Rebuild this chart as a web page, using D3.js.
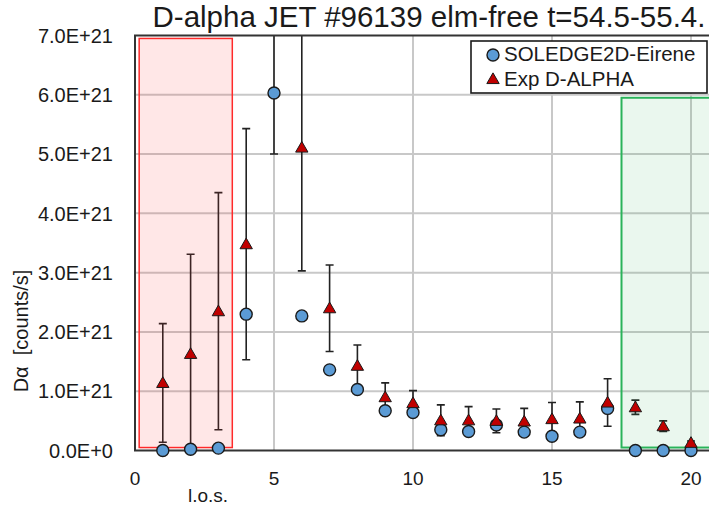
<!DOCTYPE html>
<html>
<head>
<meta charset="utf-8">
<script src="https://cdn.jsdelivr.net/npm/d3@7"></script>
<style>
  body { margin: 0; background: #fff; }
  text { font-family: "Liberation Sans", Arial, sans-serif; fill: #1a1a1a; white-space: pre; }
</style>
</head>
<body>
<script>
const width = 709
const height = 510

// line of sight index
const los = [1,2,3,4,5,6,7,8,9,10,11,12,13,14,15,16,17,18,19,20]
// SOLEDGE2D-Eirene, units of 1e21 counts/s
const soledge = [0,0.02,0.04,2.30,6.03,2.27,1.36,1.03,0.67,0.64,0.35,0.32,0.43,0.31,0.24,0.31,0.71,0,0,0]
// Exp D-ALPHA and its error, units of 1e21 counts/s
const expDalpha = [1.14,1.63,2.35,3.48,7.6,5.11,2.40,1.43,0.90,0.80,0.51,0.51,0.50,0.49,0.53,0.54,0.81,0.73,0.41,0.13]
const expErr = [1.0,1.68,2.0,1.95,2.6,2.08,0.73,0.35,0.24,0.21,0.26,0.23,0.20,0.22,0.28,0.28,0.40,0.12,0.09,0.03]

const yTicks = [0,1,2,3,4,5,6,7]
const yTickLabels = ['0.0E+0','1.0E+21','2.0E+21','3.0E+21','4.0E+21','5.0E+21','6.0E+21','7.0E+21']
const xTicks = [0,5,10,15,20]

// shaded l.o.s. ranges
const redBand = {x0:0.15, x1:3.5, y0:0.05, y1:6.95}
const greenBand = {x0:17.5, x1:21.5, y0:0.05, y1:5.95}

const svg = d3.select('body').append('svg')
  .attr('width',width)
  .attr('height',height)

const x = d3.scaleLinear().domain([0,21]).range([135,718.8])
const y = d3.scaleLinear().domain([0,7]).range([450.5,35.5])

svg.append('defs').append('clipPath').attr('id','plot')
  .append('rect')
  .attr('x',x(0)).attr('y',y(7))
  .attr('width',x(21)-x(0)).attr('height',y(0)-y(7))

// grid
const grid = svg.append('g').attr('stroke','#c8c8c8').attr('stroke-width',2)
grid.selectAll('.gy').data(yTicks.filter(d => d > 0 && d < 7)).enter().append('line')
  .attr('x1',x(0)).attr('x2',x(21))
  .attr('y1',d => y(d)).attr('y2',d => y(d))
grid.selectAll('.gx').data(xTicks.filter(d => d > 0)).enter().append('line')
  .attr('x1',d => x(d)).attr('x2',d => x(d))
  .attr('y1',y(7)).attr('y2',y(0))

// error bars
const eb = svg.append('g').attr('clip-path','url(#plot)')
  .attr('stroke','#222').attr('stroke-width',1.6)
los.forEach((l,i) => {
  const lo = expDalpha[i] - expErr[i], hi = expDalpha[i] + expErr[i]
  eb.append('line').attr('x1',x(l)).attr('x2',x(l)).attr('y1',y(lo)).attr('y2',y(hi))
  eb.append('line').attr('x1',x(l)-4).attr('x2',x(l)+4).attr('y1',y(lo)).attr('y2',y(lo))
  eb.append('line').attr('x1',x(l)-4).attr('x2',x(l)+4).attr('y1',y(hi)).attr('y2',y(hi))
})

// shaded bands
svg.append('rect')
  .attr('x',x(redBand.x0)).attr('y',y(redBand.y1))
  .attr('width',x(redBand.x1)-x(redBand.x0)).attr('height',y(redBand.y0)-y(redBand.y1))
  .attr('fill','rgba(255,60,60,0.12)').attr('stroke','#ff2a2a').attr('stroke-width',1.5)
svg.append('rect')
  .attr('x',x(greenBand.x0)).attr('y',y(greenBand.y1))
  .attr('width',x(greenBand.x1)-x(greenBand.x0)).attr('height',y(greenBand.y0)-y(greenBand.y1))
  .attr('fill','rgba(60,180,100,0.11)').attr('stroke','#2ab35a').attr('stroke-width',2)

// frame
svg.append('path')
  .attr('d',`M${x(21)},${y(7)}H${x(0)}V${y(0)}H${x(21)}`)
  .attr('fill','none').attr('stroke','#333').attr('stroke-width',2)

// markers
const tri = d3.symbol().type(d3.symbolTriangle).size(66)
svg.append('g').selectAll('circle').data(los).enter().append('circle')
  .attr('cx',d => x(d)).attr('cy',(d,i) => y(soledge[i]))
  .attr('r',6)
  .attr('fill','#5b9bd5').attr('stroke','#1a1a1a').attr('stroke-width',1.4)
svg.append('g').attr('clip-path','url(#plot)').selectAll('path').data(los).enter().append('path')
  .attr('d',tri)
  .attr('transform',(d,i) => `translate(${x(d)},${y(expDalpha[i])+1})`)
  .attr('fill','#c00000').attr('stroke','#1a1a1a').attr('stroke-width',1)

// axes labels
svg.append('g').selectAll('text').data(yTicks).enter().append('text')
  .attr('x',113).attr('y',d => y(d)).attr('dy','0.36em')
  .attr('text-anchor','end').style('font-size','20px')
  .text((d,i) => yTickLabels[i])
svg.append('g').selectAll('text').data(xTicks).enter().append('text')
  .attr('x',d => x(d)).attr('y',485)
  .attr('text-anchor','middle').style('font-size','19px')
  .text(d => d)

svg.append('text')
  .attr('x',208).attr('y',502)
  .attr('text-anchor','middle').style('font-size','19px')
  .text('l.o.s.')

svg.append('text')
  .attr('transform','translate(28,331) rotate(-90)')
  .attr('text-anchor','middle').style('font-size','20px')
  .text('Dα  [counts/s]')

svg.append('text')
  .attr('x',429).attr('y',27)
  .attr('text-anchor','middle').style('font-size','29.5px')
  .text('D-alpha JET #96139 elm-free t=54.5-55.4.')

// legend
const lg = svg.append('g')
lg.append('rect').attr('x',471).attr('y',41).attr('width',236).attr('height',52)
  .attr('fill','#fff').attr('stroke','#1a1a1a').attr('stroke-width',1.6)
lg.append('circle').attr('cx',493).attr('cy',55).attr('r',6)
  .attr('fill','#5b9bd5').attr('stroke','#1a1a1a').attr('stroke-width',1.4)
lg.append('text').attr('x',504).attr('y',61).style('font-size','20.5px').text('SOLEDGE2D-Eirene')
lg.append('path').attr('d',tri).attr('transform','translate(493,80)')
  .attr('fill','#c00000').attr('stroke','#1a1a1a').attr('stroke-width',1)
lg.append('text').attr('x',504).attr('y',86).style('font-size','20.5px').text('Exp D-ALPHA')
</script>
</body>
</html>
